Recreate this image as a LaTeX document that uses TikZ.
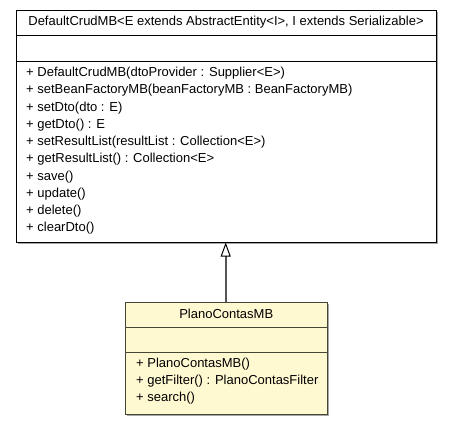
\documentclass[tikz,border=0pt]{standalone}
\usepackage{fontspec}
\setmainfont{Liberation Sans}
\usetikzlibrary{arrows.meta,shadows}
\definecolor{classfill}{RGB}{255,249,210}
\definecolor{classline}{RGB}{70,70,55}
\definecolor{linkgray}{RGB}{85,85,85}
\begin{document}
\begin{tikzpicture}[x=1pt,y=-1pt,
  umlbox/.style={draw, line width=1pt, inner sep=0pt,
    drop shadow={shadow xshift=1.6pt, shadow yshift=-1.6pt, fill=gray!70, opacity=1}},
  member/.style={anchor=west, inner sep=0pt, font=\fontsize{13}{15}\selectfont},
  title/.style={inner sep=0pt, font=\fontsize{13}{15}\selectfont},
  realizes/.style={draw=linkgray, line width=1.6pt,
    -{Triangle[open, length=14pt, width=10pt, line width=1pt, color=black]}}]
\useasboundingbox (0,0) rectangle (452,423);

% superclass
\node[umlbox, fill=white, minimum width=420pt, minimum height=232pt] (base) at (226,126) {};
\draw[line width=1pt] (16,35) -- (436,35);
\draw[line width=1pt] (16,61) -- (436,61);
\node[title] (basename) at (226,22) {DefaultCrudMB<E extends AbstractEntity<I>, I extends Serializable>};
\foreach \t [count=\i from 0] in {
  {+ DefaultCrudMB(dtoProvider : Supplier<E>)},
  {+ setBeanFactoryMB(beanFactoryMB : BeanFactoryMB)},
  {+ setDto(dto : E)},
  {+ getDto() : E},
  {+ setResultList(resultList : Collection<E>)},
  {+ getResultList() : Collection<E>},
  {+ save()},
  {+ update()},
  {+ delete()},
  {+ clearDto()}}
  \node[member] (bm\i) at (26,{73.3+17.25*\i}) {\t};

% subclass
\node[umlbox, draw=classline, fill=classfill, minimum width=201.5pt, minimum height=112pt] (sub) at (226.25,358) {};
\draw[classline, line width=1pt] (125.5,327.5) -- (327,327.5);
\draw[classline, line width=1pt] (125.5,352) -- (327,352);
\node[title] (subname) at (226.25,313.5) {PlanoContasMB};
\node[member] (sm0) at (136,364.5) {+ PlanoContasMB()};
\node[member] (sm1) at (136,381.3) {+ getFilter() : PlanoContasFilter};
\node[member] (sm2) at (136,398.1) {+ search()};

% generalization
\draw[realizes] (sub.north -| 225.7,0) -- (base.south -| 225.7,0);
\end{tikzpicture}
\end{document}
